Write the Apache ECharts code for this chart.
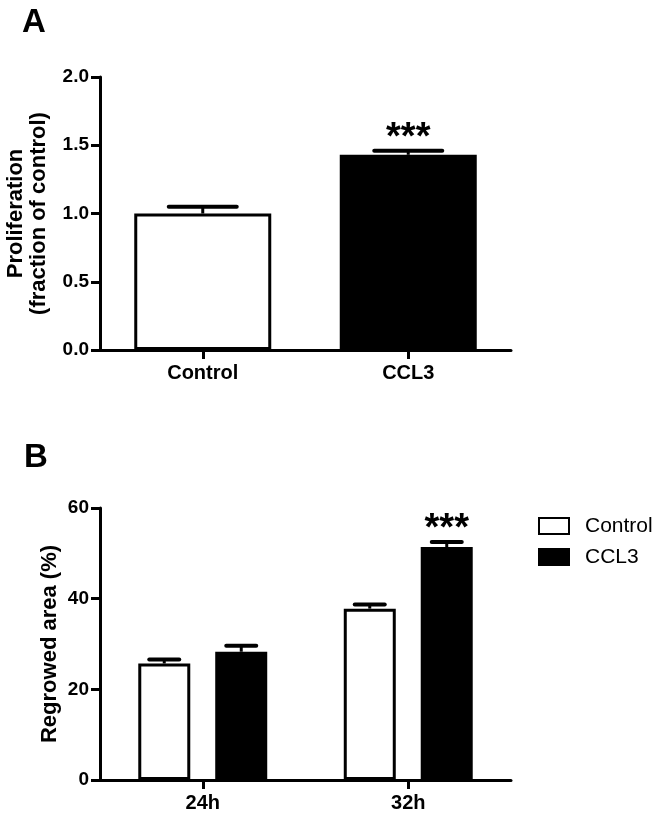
<!DOCTYPE html>
<html>
<head>
<meta charset="utf-8">
<script src="https://cdn.jsdelivr.net/npm/echarts@6/dist/echarts.min.js"></script>
<style>html,body{margin:0;padding:0;background:#fff;}#c{width:662px;height:815px;}</style>
</head>
<body>
<div id="c"></div>
<script>
// ---- Data ----
var aCategories = ['Control', 'CCL3'];
var aMean = [1.00, 1.43];
var aErr = [0.05, 0.03];
var aSig = ['', '***'];
var aTicks = [0, 0.5, 1.0, 1.5, 2.0];

var bCategories = ['24h', '32h'];
var bControl = [25.7, 37.8];
var bControlErr = [0.9, 0.9];
var bCCL3 = [28.3, 51.4];
var bCCL3Err = [1.3, 1.1];
var bControlSig = ['', ''];
var bCCL3Sig = ['', '***'];
var bTicks = [0, 20, 40, 60];

// ---- Chart ----
var FONT = 'Liberation Sans, Arial, Helvetica, sans-serif';
var chart = echarts.init(document.getElementById('c'), null, {renderer: 'canvas'});

function errData(means, errs) {
  return means.map(function (m, i) { return [i, m, errs[i]]; });
}
function errRender(offsetPx, capW, sigs, sigGap, sigSize) {
  return function (params, api) {
    var i = api.value(0);
    var m = api.value(1);
    var e = api.value(2);
    var p0 = api.coord([i, m]);
    var p1 = api.coord([i, m + e]);
    var cx = p0[0] + offsetPx;
    var children = [
      {type: 'line', shape: {x1: cx, y1: p0[1], x2: cx, y2: p1[1]}, style: {stroke: '#000', lineWidth: 3}},
      {type: 'line', shape: {x1: cx - capW / 2, y1: p1[1], x2: cx + capW / 2, y2: p1[1]}, style: {stroke: '#000', lineWidth: 4, lineCap: 'round'}}
    ];
    var s = sigs[params.dataIndex];
    if (s) {
      children.push({type: 'text', style: {text: s, x: cx, y: p1[1] - sigGap, align: 'center', verticalAlign: 'middle', fill: '#000', font: 'bold ' + sigSize + 'px ' + FONT}});
    }
    return {type: 'group', children: children};
  };
}

var axisLine = {show: true, lineStyle: {color: '#000', width: 3}};
var axisTickY = {show: true, length: 9, lineStyle: {color: '#000', width: 3}};
var axisTickX = {show: true, length: 9, alignWithLabel: true, lineStyle: {color: '#000', width: 3}};

var option = {
  backgroundColor: '#fff',
  animation: false,
  grid: [
    {left: 100, top: 77, width: 411, height: 273, containLabel: false, outerBoundsMode: 'none'},
    {left: 100, top: 508, width: 411, height: 272, containLabel: false, outerBoundsMode: 'none'}
  ],
  xAxis: [
    {type: 'category', gridIndex: 0, data: aCategories, axisLine: axisLine, axisTick: axisTickX,
     axisLabel: {color: '#000', fontFamily: FONT, fontWeight: 'bold', fontSize: 20, margin: 13}},
    {type: 'category', gridIndex: 1, data: bCategories, axisLine: axisLine, axisTick: axisTickX,
     axisLabel: {color: '#000', fontFamily: FONT, fontWeight: 'bold', fontSize: 20, margin: 13}}
  ],
  yAxis: [
    {type: 'value', gridIndex: 0, min: aTicks[0], max: aTicks[aTicks.length - 1], interval: 0.5,
     axisLine: axisLine, axisTick: axisTickY, splitLine: {show: false},
     axisLabel: {color: '#000', fontFamily: FONT, fontWeight: 'bold', fontSize: 19, margin: 11,
                 formatter: function (v) { return v.toFixed(1); }},
     name: 'Proliferation\n(fraction of control)', nameLocation: 'middle', nameRotate: 90, nameGap: 50,
     nameMoveOverlap: false,
     nameTextStyle: {color: '#000', fontFamily: FONT, fontWeight: 'bold', fontSize: 22, lineHeight: 23}},
    {type: 'value', gridIndex: 1, min: bTicks[0], max: bTicks[bTicks.length - 1], interval: 20,
     axisLine: axisLine, axisTick: axisTickY, splitLine: {show: false},
     axisLabel: {color: '#000', fontFamily: FONT, fontWeight: 'bold', fontSize: 19, margin: 11},
     name: 'Regrowed area (%)', nameLocation: 'middle', nameRotate: 90, nameGap: 39,
     nameMoveOverlap: false,
     nameTextStyle: {color: '#000', fontFamily: FONT, fontWeight: 'bold', fontSize: 22}}
  ],
  legend: {
    data: ['Control', 'CCL3'],
    orient: 'vertical',
    left: 538, top: 514, padding: 0,
    itemWidth: 30, itemHeight: 16, itemGap: 7,
    icon: 'rect',
    textStyle: {color: '#000', fontFamily: FONT, fontSize: 21, lineHeight: 24, padding: [0, 0, 0, 11]}
  },
  graphic: [
    {type: 'text', left: 22, top: 6, style: {text: 'A', font: 'bold 33px ' + FONT, fill: '#000'}},
    {type: 'text', left: 24, top: 441, style: {text: 'B', font: 'bold 33px ' + FONT, fill: '#000'}}
  ],
  series: [
    {type: 'bar', name: 'A', xAxisIndex: 0, yAxisIndex: 0, barWidth: 137,
     data: aMean.map(function (v, i) {
       return {value: v, itemStyle: {color: i === 0 ? '#fff' : '#000', borderColor: '#000', borderWidth: 3}};
     })},
    {type: 'custom', xAxisIndex: 0, yAxisIndex: 0, data: errData(aMean, aErr),
     renderItem: errRender(0, 68, aSig, 12, 38), z: 5},
    {type: 'bar', name: 'Control', xAxisIndex: 1, yAxisIndex: 1, barWidth: 52, barGap: '48%',
     itemStyle: {color: '#fff', borderColor: '#000', borderWidth: 3}, data: bControl},
    {type: 'bar', name: 'CCL3', xAxisIndex: 1, yAxisIndex: 1, barWidth: 52, barGap: '48%',
     itemStyle: {color: '#000', borderColor: '#000', borderWidth: 3}, data: bCCL3},
    {type: 'custom', xAxisIndex: 1, yAxisIndex: 1, data: errData(bControl, bControlErr),
     renderItem: errRender(-38.5, 30, bControlSig, 12, 38), z: 5},
    {type: 'custom', xAxisIndex: 1, yAxisIndex: 1, data: errData(bCCL3, bCCL3Err),
     renderItem: errRender(38.5, 30, bCCL3Sig, 12, 38), z: 5}
  ]
};
chart.setOption(option);
</script>
</body>
</html>
